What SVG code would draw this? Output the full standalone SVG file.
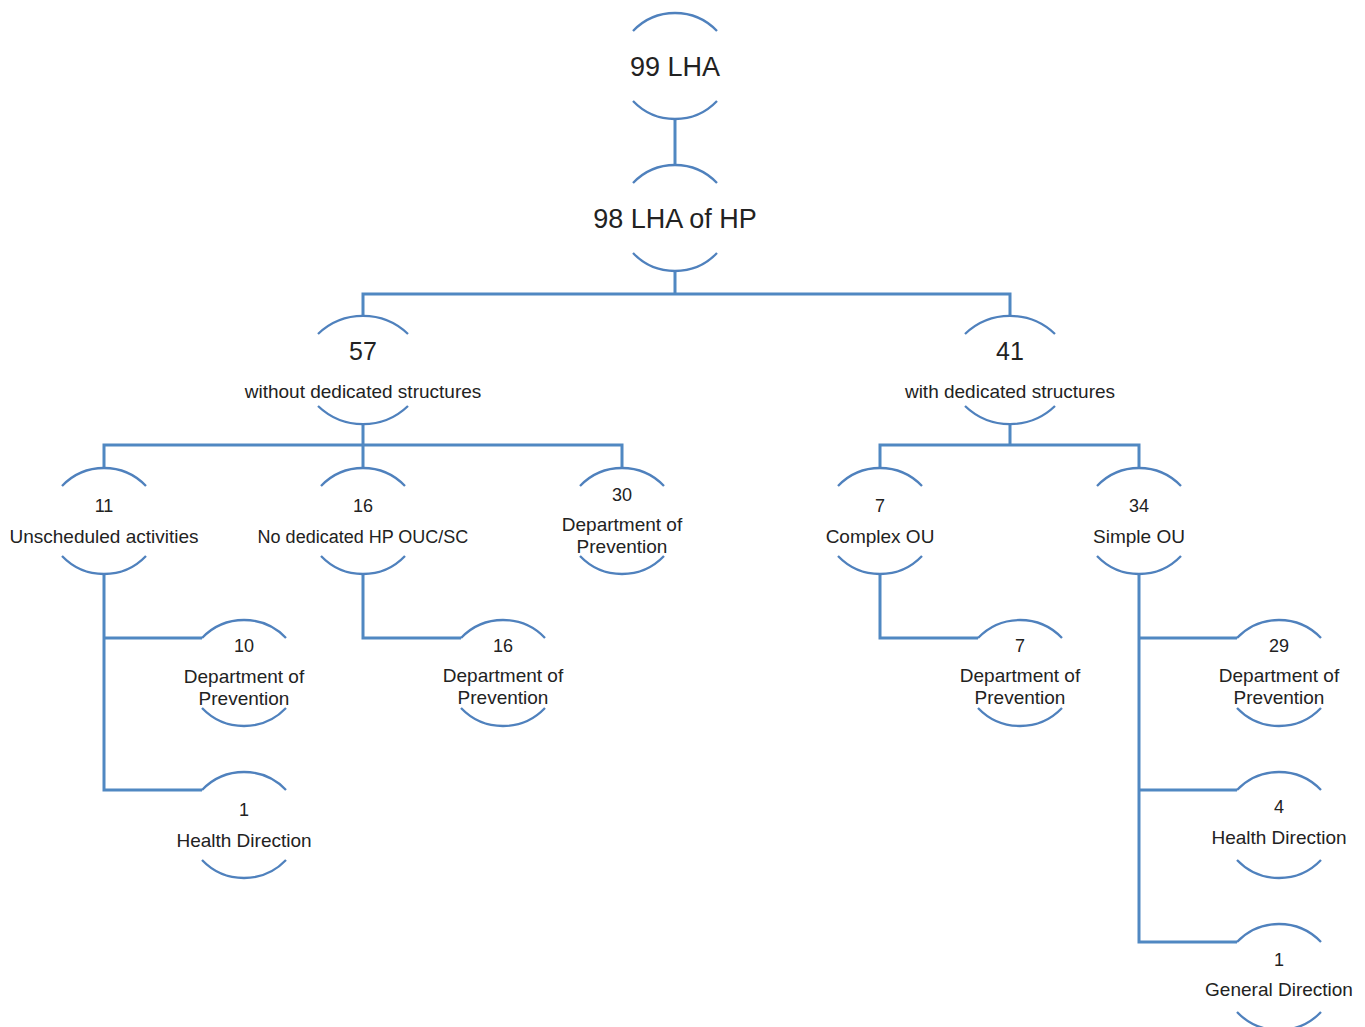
<svg xmlns="http://www.w3.org/2000/svg" xmlns:xlink="http://www.w3.org/1999/xlink" width="1365" height="1027" viewBox="0 0 1365 1027">
<style>
.arc{fill:none;stroke:#4F81BD;stroke-width:2.3}
.con{fill:none;stroke:#5088C2;stroke-width:3}
text{font-family:"Liberation Sans",Arial,sans-serif;fill:#222;text-anchor:middle}
.big{font-size:27px}
.num2{font-size:25px}
.lab2{font-size:19px}
.num{font-size:18px}
.lab{font-size:19px}
.labn{font-size:18px}
</style>
<defs>
<path id="nd" d="M-42,-35 A58,58 0 0 1 42,-35 M-42,35 A58,58 0 0 0 42,35"/>
<path id="ndw" d="M-45,-36 A65,65 0 0 1 45,-36 M-45,36 A65,65 0 0 0 45,36"/>
</defs>
<rect width="1365" height="1027" fill="#fff"/>
<g id="connectors" class="con">
<path d="M675,119V165"/>
<path d="M675,271V294M363,316V294H1010V317"/>
<path d="M363,424V445M104,468V445H622V468M363,445V468"/>
<path d="M1010,424V445M880,468V445H1139V468"/>
<path d="M104,574V790H202M104,638H202"/>
<path d="M363,574V638H461"/>
<path d="M880,574V638H978"/>
<path d="M1139,574V942H1237M1139,638H1237M1139,790H1237"/>
</g>
<g id="n99"><use xlink:href="#nd" href="#nd" class="arc" transform="translate(675,66)"/><text class="big" x="675" y="76">99 LHA</text></g>
<g id="n98"><use xlink:href="#nd" href="#nd" class="arc" transform="translate(675,218)"/><text class="big" x="675" y="228">98 LHA of HP</text></g>
<g id="n57"><use xlink:href="#ndw" href="#ndw" class="arc" transform="translate(363,370)"/><text class="num2" x="363" y="360">57</text><text class="lab2" x="363" y="398">without dedicated structures</text></g>
<g id="n41"><use xlink:href="#ndw" href="#ndw" class="arc" transform="translate(1010,370)"/><text class="num2" x="1010" y="360">41</text><text class="lab2" x="1010" y="398">with dedicated structures</text></g>
<g id="n11"><use xlink:href="#nd" href="#nd" class="arc" transform="translate(104,521)"/><text class="num" x="104" y="512">11</text><text class="lab" x="104" y="543">Unscheduled activities</text></g>
<g id="n16"><use xlink:href="#nd" href="#nd" class="arc" transform="translate(363,521)"/><text class="num" x="363" y="512">16</text><text class="labn" x="363" y="543">No dedicated HP OUC/SC</text></g>
<g id="n30"><use xlink:href="#nd" href="#nd" class="arc" transform="translate(622,521)"/><text class="num" x="622" y="501">30</text><text class="lab" x="622" y="531">Department of</text><text class="lab" x="622" y="553">Prevention</text></g>
<g id="n7"><use xlink:href="#nd" href="#nd" class="arc" transform="translate(880,521)"/><text class="num" x="880" y="512">7</text><text class="lab" x="880" y="543">Complex OU</text></g>
<g id="n34"><use xlink:href="#nd" href="#nd" class="arc" transform="translate(1139,521)"/><text class="num" x="1139" y="512">34</text><text class="lab" x="1139" y="543">Simple OU</text></g>
<g id="n10dp"><use xlink:href="#nd" href="#nd" class="arc" transform="translate(244,673)"/><text class="num" x="244" y="652">10</text><text class="lab" x="244" y="683">Department of</text><text class="lab" x="244" y="705">Prevention</text></g>
<g id="n1hd"><use xlink:href="#nd" href="#nd" class="arc" transform="translate(244,825)"/><text class="num" x="244" y="816">1</text><text class="lab" x="244" y="847">Health Direction</text></g>
<g id="n16dp"><use xlink:href="#nd" href="#nd" class="arc" transform="translate(503,673)"/><text class="num" x="503" y="652">16</text><text class="lab" x="503" y="682">Department of</text><text class="lab" x="503" y="704">Prevention</text></g>
<g id="n7dp"><use xlink:href="#nd" href="#nd" class="arc" transform="translate(1020,673)"/><text class="num" x="1020" y="652">7</text><text class="lab" x="1020" y="682">Department of</text><text class="lab" x="1020" y="704">Prevention</text></g>
<g id="n29dp"><use xlink:href="#nd" href="#nd" class="arc" transform="translate(1279,673)"/><text class="num" x="1279" y="652">29</text><text class="lab" x="1279" y="682">Department of</text><text class="lab" x="1279" y="704">Prevention</text></g>
<g id="n4hd"><use xlink:href="#nd" href="#nd" class="arc" transform="translate(1279,825)"/><text class="num" x="1279" y="813">4</text><text class="lab" x="1279" y="844">Health Direction</text></g>
<g id="n1gd"><use xlink:href="#nd" href="#nd" class="arc" transform="translate(1279,977)"/><text class="num" x="1279" y="966">1</text><text class="lab" x="1279" y="996">General Direction</text></g>
</svg>
